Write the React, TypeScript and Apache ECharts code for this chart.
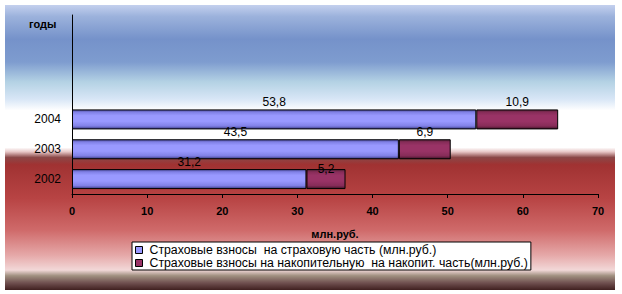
import React, { useEffect, useRef } from "react";
import * as echarts from "echarts";

const categories = ["2002", "2003", "2004", "", "", ""];
const insuranceValues: (number | null)[] = [31.2, 43.5, 53.8, null, null, null];
const fundedValues: (number | null)[] = [5.2, 6.9, 10.9, null, null, null];
const seriesNames = [
  "Страховые взносы  на страховую часть (млн.руб.)",
  "Страховые взносы на накопительную  на накопит. часть(млн.руб.)",
];
const xTicks = { min: 0, max: 70, interval: 10 };

const FONT = "Arial, 'Liberation Sans', sans-serif";

const fmt = (p: any) => (p.value == null ? "" : String(p.value).replace(".", ","));

function barGradient(c0: string, c1: string, c2: string, c3: string) {
  return new echarts.graphic.LinearGradient(0, 0, 0, 1, [
    { offset: 0, color: c0 },
    { offset: 0.12, color: c1 },
    { offset: 0.3, color: c2 },
    { offset: 0.6, color: c2 },
    { offset: 0.85, color: c1 },
    { offset: 1, color: c3 },
  ]);
}

export default function App() {
  const ref = useRef<HTMLDivElement>(null);
  useEffect(() => {
    if (!ref.current) return;
    const chart = echarts.init(ref.current, undefined, { renderer: "svg" });
    const bg = new echarts.graphic.LinearGradient(0, 0, 0, 1, [
      { offset: 0, color: "#c4d0ee" },
      { offset: 0.04, color: "#9cb2dc" },
      { offset: 0.12, color: "#7592ca" },
      { offset: 0.2, color: "#7e9ccf" },
      { offset: 0.27, color: "#b4d2e4" },
      { offset: 0.33, color: "#d8e6f6" },
      { offset: 0.37, color: "#ffffff" },
      { offset: 0.5, color: "#ffffff" },
      { offset: 0.515, color: "#e8c8c8" },
      { offset: 0.535, color: "#8a4848" },
      { offset: 0.56, color: "#a03232" },
      { offset: 0.68, color: "#b84444" },
      { offset: 0.79, color: "#cf6a6a" },
      { offset: 0.88, color: "#e6aaaa" },
      { offset: 0.93, color: "#f2d8d8" },
      { offset: 0.95, color: "#a09080" },
      { offset: 0.975, color: "#705050" },
      { offset: 1, color: "#402020" },
    ]);
    chart.setOption({
      animation: false,
      graphic: [
        {
          type: "rect",
          z: -100,
          silent: true,
          shape: { x: 5, y: 5, width: 610, height: 285 },
          style: { fill: bg },
        },
        {
          type: "text",
          left: 29,
          top: 18,
          style: { text: "годы", font: `bold 11px ${FONT}`, fill: "#000" },
        },
      ],
      grid: { left: 72, right: 24, top: 15, bottom: 100, containLabel: false },
      legend: {
        orient: "vertical",
        left: 132,
        top: 242,
        padding: [2, 3, 1, 3],
        itemGap: 1,
        itemWidth: 7,
        itemHeight: 7,
        icon: "rect",
        borderColor: "#000",
        borderWidth: 1,
        backgroundColor: "#ffffff",
        textStyle: { fontSize: 12.3, fontFamily: FONT, color: "#000", padding: [0, 0, 0, 2] },
        data: [
          { name: seriesNames[0], itemStyle: { color: "#9999ff", borderColor: "#000", borderWidth: 1 } },
          { name: seriesNames[1], itemStyle: { color: "#993366", borderColor: "#000", borderWidth: 1 } },
        ],
      },
      xAxis: {
        type: "value",
        min: xTicks.min,
        max: xTicks.max,
        interval: xTicks.interval,
        name: "млн.руб.",
        nameLocation: "middle",
        nameGap: 34,
        nameTextStyle: { fontSize: 11, fontWeight: "bold", fontFamily: FONT, color: "#000" },
        axisLine: { show: true, lineStyle: { color: "#000", width: 1 } },
        axisTick: { show: true, length: 4, lineStyle: { color: "#000" } },
        splitLine: { show: false },
        axisLabel: { fontSize: 11, fontWeight: "bold", fontFamily: FONT, color: "#000", margin: 11 },
      },
      yAxis: {
        type: "category",
        data: categories,
        axisLine: { show: true, lineStyle: { color: "#000", width: 1 } },
        axisTick: { show: false },
        axisLabel: { fontSize: 12, fontFamily: FONT, color: "#000", margin: 11 },
      },
      series: [
        {
          name: seriesNames[0],
          type: "bar",
          stack: "total",
          barWidth: 20,
          data: insuranceValues,
          itemStyle: {
            color: barGradient("#4a4a99", "#8080e6", "#9999ff", "#3a3a80"),
            borderColor: "#000",
            borderWidth: 1,
          },
          label: {
            show: true,
            position: "top",
            distance: 1,
            formatter: fmt,
            fontSize: 12,
            fontFamily: FONT,
            color: "#000",
          },
        },
        {
          name: seriesNames[1],
          type: "bar",
          stack: "total",
          barWidth: 20,
          data: fundedValues.map((v, i) =>
            i === 0 ? { value: v, label: { offset: [0, 7] } } : v
          ),
          itemStyle: {
            color: barGradient("#552238", "#862c58", "#993366", "#401428"),
            borderColor: "#000",
            borderWidth: 1,
          },
          label: {
            show: true,
            position: "top",
            distance: 1,
            formatter: fmt,
            fontSize: 12,
            fontFamily: FONT,
            color: "#000",
          },
        },
      ],
    });
    return () => chart.dispose();
  }, []);
  return (
    <div
      ref={ref}
      style={{ position: "fixed", left: 0, top: 0, width: 622, height: 294, background: "#ffffff" }}
    />
  );
}
